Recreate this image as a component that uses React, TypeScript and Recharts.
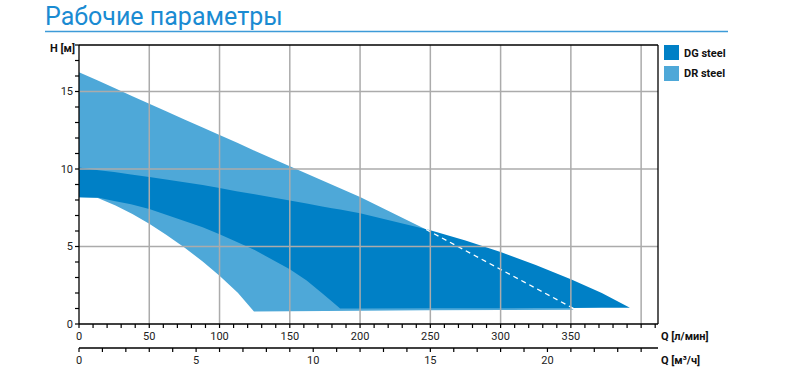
import React from "react";
import { ComposedChart, Area, Line, XAxis, YAxis, ReferenceLine } from "recharts";

// DR steel (light) band: Q [l/min], lower H, upper H
const drQ = [0, 13, 26, 38, 50, 62, 75, 88, 100, 113, 124.5, 150, 200, 247, 300, 352];
const drLow = [8.17, 8.15, 7.65, 7.1, 6.46, 5.76, 4.94, 4.03, 3.11, 2.01, 0.8, 0.82, 0.85, 0.88, 0.9, 0.92];
const drHigh = [16.25, 15.72, 15.2, 14.7, 14.21, 13.72, 13.19, 12.68, 12.2, 11.68, 11.2, 10.17, 8.2, 6.1, 3.59, 0.92];

// DG steel (dark) band
const dgQ = [0, 14, 25, 37, 50, 62, 75, 88, 100, 112, 125, 137, 150, 162, 173, 180, 185.8, 200, 250, 275, 300, 325, 350, 372, 392];
const dgLow = [8.17, 8.15, 7.94, 7.72, 7.42, 7.05, 6.65, 6.25, 5.79, 5.3, 4.77, 4.18, 3.53, 2.8, 1.98, 1.45, 1.0, 1.0, 1.01, 1.015, 1.02, 1.03, 1.04, 1.045, 1.05];
const dgHigh = [10.09, 9.92, 9.8, 9.65, 9.49, 9.32, 9.15, 8.96, 8.78, 8.57, 8.37, 8.17, 7.96, 7.77, 7.58, 7.46, 7.38, 7.14, 6.05, 5.38, 4.65, 3.8, 2.88, 2.0, 1.05];

// hidden part of DR upper curve (dashed)
const dashQ = [247, 352];
const dashH = [6.1, 1.0];

const qTicks = [0, 10, 20, 30, 40, 50, 60, 70, 80, 90, 100, 110, 120, 130, 140, 150, 160, 170, 180, 190, 200, 210, 220, 230, 240, 250, 260, 270, 280, 290, 300, 310, 320, 330, 340, 350, 360, 370, 380, 390, 400, 410];
const qLabels = [0, 50, 100, 150, 200, 250, 300, 350];
const m3Ticks = [0, 1, 2, 3, 4, 5, 6, 7, 8, 9, 10, 11, 12, 13, 14, 15, 16, 17, 18, 19, 20, 21, 22, 23, 24];
const m3Labels = [0, 5, 10, 15, 20];
const hTicks = [0, 1, 2, 3, 4, 5, 6, 7, 8, 9, 10, 11, 12, 13, 14, 15, 16, 17, 18];
const hLabels = [0, 5, 10, 15];
const gridQ = [50, 100, 150, 200, 250, 300, 350, 400];
const gridH = [5, 10, 15];

const Q_MAX = 412;
const H_MAX = 18;

const DARK = "#0080c6";
const LIGHT = "#4ea8d8";
const FONT = "Roboto, 'Noto Sans', sans-serif";

const drData = drQ.map((q, i) => ({ q, lo: drLow[i], hi: drHigh[i] }));
const dgData = dgQ.map((q, i) => ({ q, lo: dgLow[i], hi: dgHigh[i] }));
const dashData = dashQ.map((q, i) => ({ q, h: dashH[i] }));

const tickStyle = { fontSize: 11, fill: "#222", fontFamily: FONT };

export default function App() {
  return (
    <div style={{ position: "absolute", left: 0, top: 0, width: 792, height: 379, background: "#fff" }}>
      <ComposedChart
        width={792}
        height={379}
        margin={{ top: 45, right: 134, bottom: 11, left: 0 }}
      >
        <XAxis
          xAxisId="a1"
          dataKey="q"
          type="number"
          domain={[0, Q_MAX]}
          ticks={qTicks}
          interval={0}
          allowDataOverflow
          tickFormatter={(v: number) => (qLabels.includes(v) ? String(v) : "")}
          tick={tickStyle}
          tickSize={4}
          tickMargin={4}
          height={24}
          axisLine={{ stroke: "#000", strokeWidth: 1.3 }}
          tickLine={{ stroke: "#000", strokeWidth: 1.2 }}
        />
        <XAxis
          xAxisId="b2"
          dataKey="q"
          type="number"
          domain={[0, (Q_MAX * 60) / 1000]}
          ticks={m3Ticks}
          interval={0}
          allowDataOverflow
          tickFormatter={(v: number) => (m3Labels.includes(v) ? String(v) : "")}
          tick={tickStyle}
          tickSize={4}
          tickMargin={4}
          height={20}
          axisLine={{ stroke: "#000", strokeWidth: 1.3 }}
          tickLine={{ stroke: "#000", strokeWidth: 1.2 }}
        />
        <YAxis
          yAxisId="h"
          type="number"
          domain={[0, H_MAX]}
          ticks={hTicks}
          interval={0}
          allowDataOverflow
          tickFormatter={(v: number) => (hLabels.includes(v) ? String(v) : "")}
          tick={tickStyle}
          tickSize={4}
          tickMargin={2}
          width={79}
          axisLine={{ stroke: "#000", strokeWidth: 1.3 }}
          tickLine={{ stroke: "#000", strokeWidth: 1.2 }}
        />
        <Area
          xAxisId="a1"
          yAxisId="h"
          data={drData}
          dataKey={(d: any) => [d.lo, d.hi]}
          name="DR steel"
          type="linear"
          fill={LIGHT}
          fillOpacity={1}
          stroke="none"
          isAnimationActive={false}
        />
        <Area
          xAxisId="a1"
          yAxisId="h"
          data={dgData}
          dataKey={(d: any) => [d.lo, d.hi]}
          name="DG steel"
          type="linear"
          fill={DARK}
          fillOpacity={1}
          stroke="none"
          isAnimationActive={false}
        />
        <Line
          xAxisId="a1"
          yAxisId="h"
          data={dashData}
          dataKey="h"
          type="linear"
          stroke="#fff"
          strokeWidth={1.3}
          strokeDasharray="5 4"
          dot={false}
          isAnimationActive={false}
        />
        {gridQ.map((q) => (
          <ReferenceLine key={"gq" + q} xAxisId="a1" yAxisId="h" x={q} stroke="#ababab" strokeWidth={1.5} />
        ))}
        {gridH.map((h) => (
          <ReferenceLine key={"gh" + h} xAxisId="a1" yAxisId="h" y={h} stroke="#ababab" strokeWidth={1.5} />
        ))}
        <ReferenceLine xAxisId="a1" yAxisId="h" y={H_MAX} stroke="#000" strokeWidth={1.3} />
        <ReferenceLine xAxisId="a1" yAxisId="h" x={Q_MAX} stroke="#000" strokeWidth={1.3} />
      </ComposedChart>
      <svg
        width={792}
        height={379}
        style={{ position: "absolute", left: 0, top: 0, pointerEvents: "none" }}
      >
        <text x={45} y={25} fontSize={25} fill="#1a8bd2" fontFamily={FONT}>
          Рабочие параметры
        </text>
        <line x1={45} y1={31.5} x2={728} y2={31.5} stroke="#3d9bd8" strokeWidth={1.5} />
        <text x={50} y={52} fontSize={11} fontWeight="bold" fill="#111" fontFamily={FONT}>
          H [м]
        </text>
        <text x={661} y={340} fontSize={11} fontWeight="bold" fill="#111" fontFamily={FONT}>
          Q [л/мин]
        </text>
        <text x={661} y={364} fontSize={11} fontWeight="bold" fill="#111" fontFamily={FONT}>
          Q [м³/ч]
        </text>
        <rect x={664} y={45} width={15} height={15} fill={DARK} />
        <text x={684} y={57} fontSize={11} fontWeight="bold" fill="#111" fontFamily={FONT}>
          DG steel
        </text>
        <rect x={664} y={66} width={15} height={15} fill={LIGHT} />
        <text x={684} y={77} fontSize={11} fontWeight="bold" fill="#111" fontFamily={FONT}>
          DR steel
        </text>
      </svg>
    </div>
  );
}
